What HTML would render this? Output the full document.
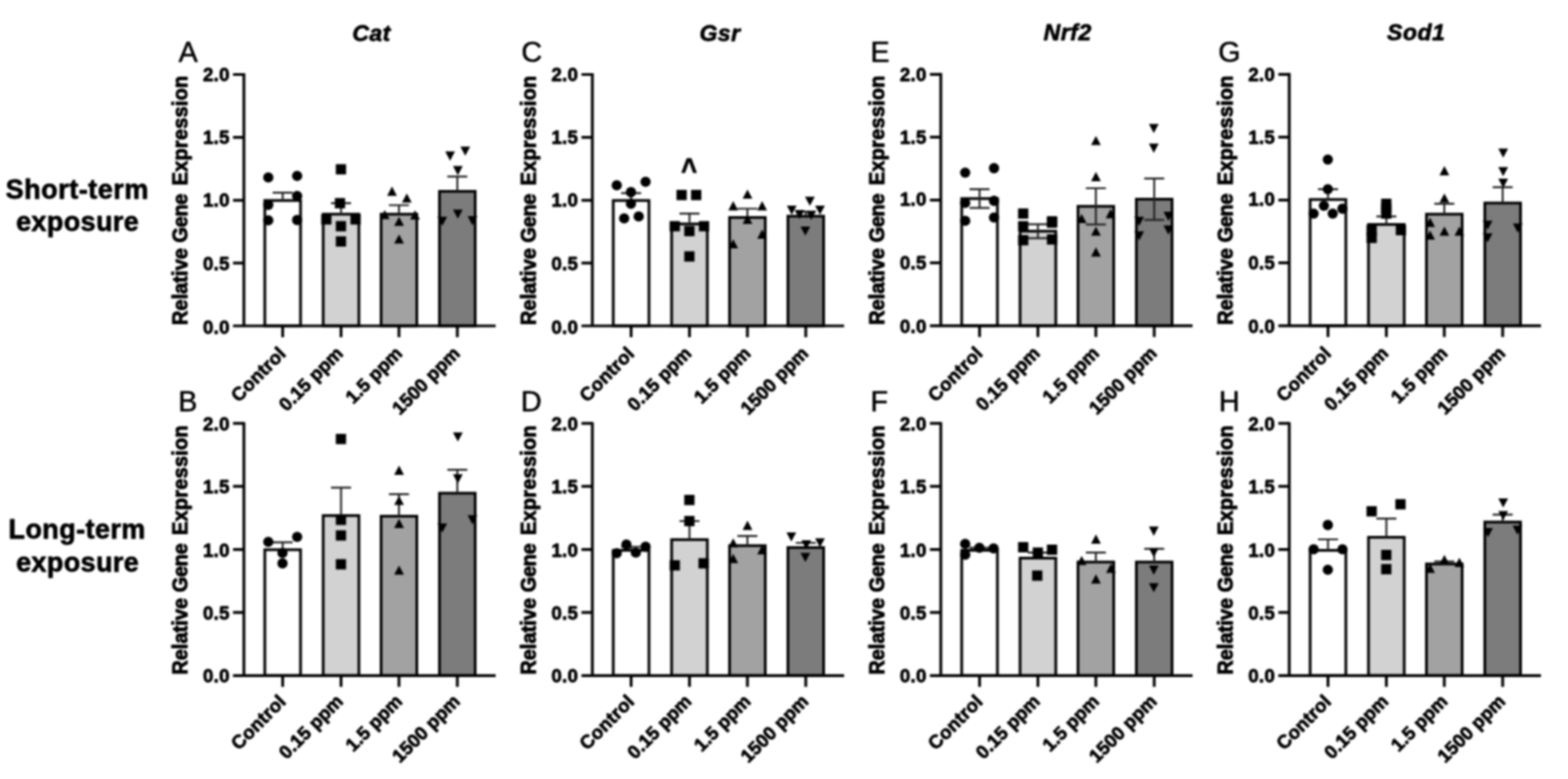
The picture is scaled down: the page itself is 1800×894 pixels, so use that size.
<!DOCTYPE html>
<html lang="en">
<head>
<meta charset="utf-8">
<title>Relative Gene Expression - Cat, Gsr, Nrf2, Sod1</title>
<style>
html,body{margin:0;padding:0;background:#fff;}
body{width:1800px;height:894px;overflow:hidden;}
svg{display:block;filter:blur(1.2px);}
text{font-family:"Liberation Sans", sans-serif;stroke:#000;stroke-width:0.8px;stroke-linejoin:round;}
.lt{stroke-width:0.6px;}
.tk text{stroke-width:0.8px;}
.yl text{stroke-width:1.0px;}
</style>
</head>
<body>
<svg width="1800" height="894" viewBox="0 0 1800 894" fill="#000">
<rect x="0" y="0" width="1800" height="894" fill="#fff"/>
<g font-weight="700" font-size="31" text-anchor="middle" letter-spacing="0.45">
<text x="88.7" y="227.5" letter-spacing="0.6">Short-term</text><text x="89.1" y="265">exposure</text>
<text x="88.5" y="617.5">Long-term</text><text x="89.1" y="656">exposure</text>
</g>
<g><!-- panel A -->
<text x="205.1" y="71.2" class="lt" font-size="33">A</text>
<text x="426.6" y="46.8" font-size="26.4" font-weight="700" font-style="italic" text-anchor="middle" letter-spacing="0.6">Cat</text>
<g class="yl" font-size="23" font-weight="700">
<text transform="translate(214.8 373.0) rotate(-90)" letter-spacing="0.0">Relative</text>
<text transform="translate(214.8 278.4) rotate(-90)" letter-spacing="-0.45">Gene</text>
<text transform="translate(214.8 212.7) rotate(-90)" letter-spacing="0.2">Expression</text>
</g>
<rect x="304.0" y="230.1" width="41.0" height="143.9" fill="#ffffff" stroke="#000" stroke-width="3.1"/>
<path d="M324.5 221.1V230.1M313.0 221.1H336.0" stroke="#222" stroke-width="2.2" fill="none"/>
<rect x="371.0" y="245.8" width="41.0" height="128.2" fill="#d2d2d2" stroke="#000" stroke-width="3.1"/>
<path d="M391.5 233.2V245.8M380.0 233.2H403.0" stroke="#222" stroke-width="2.2" fill="none"/>
<rect x="437.5" y="245.8" width="41.0" height="128.2" fill="#a2a2a2" stroke="#000" stroke-width="3.1"/>
<path d="M458.0 235.5V245.8M446.5 235.5H469.5" stroke="#222" stroke-width="2.2" fill="none"/>
<rect x="504.5" y="219.6" width="41.0" height="154.4" fill="#7c7c7c" stroke="#000" stroke-width="3.1"/>
<path d="M525.0 202.6V219.6M513.5 202.6H536.5" stroke="#222" stroke-width="2.2" fill="none"/>
<g stroke="#000" stroke-width="3.2" fill="none">
<path d="M280.0 84.0V374.0"/>
<path d="M267.5 374.0H569.0"/>
<path d="M267.5 85.5H280.0M267.5 157.6H280.0M267.5 229.8H280.0M267.5 301.9H280.0M324.5 374.0V387.0M391.5 374.0V387.0M458.0 374.0V387.0M525.0 374.0V387.0"/>
</g>
<g class="tk" font-size="21.5" font-weight="700" text-anchor="end" letter-spacing="0.3">
<text x="263.8" y="92.9">2.0</text>
<text x="263.8" y="165.0">1.5</text>
<text x="263.8" y="237.2">1.0</text>
<text x="263.8" y="310.2">0.5</text>
<text x="263.8" y="383.0">0.0</text>
</g>
<g font-size="21.5" font-weight="700" text-anchor="end" letter-spacing="0.3">
<text transform="translate(329.5 407.0) rotate(-45)" letter-spacing="0.3">Control</text>
<text transform="translate(395.0 407.0) rotate(-45)" letter-spacing="0.0">0.15 ppm</text>
<text transform="translate(463.0 407.0) rotate(-45)" letter-spacing="0.0">1.5 ppm</text>
<text transform="translate(529.2 407.0) rotate(-45)" letter-spacing="0.0">1500 ppm</text>
</g>
<g>
<circle cx="308.0" cy="203.7" r="5.9"/>
<circle cx="341.1" cy="201.9" r="5.9"/>
<circle cx="341.1" cy="224.9" r="5.9"/>
<circle cx="308.0" cy="235.0" r="5.9"/>
<circle cx="308.0" cy="252.9" r="5.9"/>
<circle cx="341.1" cy="252.5" r="5.9"/>
<rect x="385.5" y="188.4" width="11.8" height="11.8"/>
<rect x="384.4" y="227.3" width="11.8" height="11.8"/>
<rect x="368.7" y="245.9" width="11.8" height="11.8"/>
<rect x="402.3" y="245.9" width="11.8" height="11.8"/>
<rect x="385.5" y="253.7" width="11.8" height="11.8"/>
<rect x="385.5" y="271.2" width="11.8" height="11.8"/>
<path d="M444.4 224.7L455.6 224.7L450.0 214.1Z"/>
<path d="M461.4 232.5L472.6 232.5L467.0 221.9Z"/>
<path d="M436.1 251.5L447.3 251.5L441.7 240.9Z"/>
<path d="M470.8 251.9L482.0 251.9L476.4 241.3Z"/>
<path d="M452.5 259.3L463.7 259.3L458.1 248.7Z"/>
<path d="M452.5 279.5L463.7 279.5L458.1 268.9Z"/>
<path d="M511.1 173.8L522.3 173.8L516.7 184.4Z"/>
<path d="M528.5 168.2L539.7 168.2L534.1 178.8Z"/>
<path d="M520.0 190.6L531.2 190.6L525.6 201.2Z"/>
<path d="M520.0 240.4L531.2 240.4L525.6 251.0Z"/>
<path d="M502.1 248.7L513.3 248.7L507.7 259.3Z"/>
<path d="M536.8 248.1L548.0 248.1L542.4 258.7Z"/>
</g>
</g>
<g><!-- panel C -->
<text x="598.6" y="71.2" class="lt" font-size="33">C</text>
<text x="826.6" y="46.8" font-size="26.4" font-weight="700" font-style="italic" text-anchor="middle" letter-spacing="0.6">Gsr</text>
<g class="yl" font-size="23" font-weight="700">
<text transform="translate(614.8 373.0) rotate(-90)" letter-spacing="0.0">Relative</text>
<text transform="translate(614.8 278.4) rotate(-90)" letter-spacing="-0.45">Gene</text>
<text transform="translate(614.8 212.7) rotate(-90)" letter-spacing="0.2">Expression</text>
</g>
<rect x="704.0" y="230.1" width="41.0" height="143.9" fill="#ffffff" stroke="#000" stroke-width="3.1"/>
<path d="M724.5 221.6V230.1M713.0 221.6H736.0" stroke="#222" stroke-width="2.2" fill="none"/>
<rect x="771.0" y="257.0" width="41.0" height="117.0" fill="#d2d2d2" stroke="#000" stroke-width="3.1"/>
<path d="M791.5 245.1V257.0M780.0 245.1H803.0" stroke="#222" stroke-width="2.2" fill="none"/>
<rect x="837.5" y="249.6" width="41.0" height="124.4" fill="#a2a2a2" stroke="#000" stroke-width="3.1"/>
<path d="M858.0 239.5V249.6M846.5 239.5H869.5" stroke="#222" stroke-width="2.2" fill="none"/>
<rect x="904.5" y="248.1" width="41.0" height="125.9" fill="#7c7c7c" stroke="#000" stroke-width="3.1"/>
<path d="M925.0 242.8V248.1M913.5 242.8H936.5" stroke="#222" stroke-width="2.2" fill="none"/>
<g stroke="#000" stroke-width="3.2" fill="none">
<path d="M680.0 84.0V374.0"/>
<path d="M667.5 374.0H969.0"/>
<path d="M667.5 85.5H680.0M667.5 157.6H680.0M667.5 229.8H680.0M667.5 301.9H680.0M724.5 374.0V387.0M791.5 374.0V387.0M858.0 374.0V387.0M925.0 374.0V387.0"/>
</g>
<g class="tk" font-size="21.5" font-weight="700" text-anchor="end" letter-spacing="0.3">
<text x="663.8" y="92.9">2.0</text>
<text x="663.8" y="165.0">1.5</text>
<text x="663.8" y="237.2">1.0</text>
<text x="663.8" y="310.2">0.5</text>
<text x="663.8" y="383.0">0.0</text>
</g>
<g font-size="21.5" font-weight="700" text-anchor="end" letter-spacing="0.3">
<text transform="translate(729.5 407.0) rotate(-45)" letter-spacing="0.3">Control</text>
<text transform="translate(795.0 407.0) rotate(-45)" letter-spacing="0.0">0.15 ppm</text>
<text transform="translate(863.0 407.0) rotate(-45)" letter-spacing="0.0">1.5 ppm</text>
<text transform="translate(929.2 407.0) rotate(-45)" letter-spacing="0.0">1500 ppm</text>
</g>
<g>
<circle cx="708.0" cy="212.6" r="5.9"/>
<circle cx="741.1" cy="208.6" r="5.9"/>
<circle cx="724.3" cy="220.5" r="5.9"/>
<circle cx="724.3" cy="233.9" r="5.9"/>
<circle cx="716.5" cy="250.7" r="5.9"/>
<circle cx="733.2" cy="248.4" r="5.9"/>
<rect x="776.6" y="217.9" width="11.8" height="11.8"/>
<rect x="793.3" y="217.9" width="11.8" height="11.8"/>
<rect x="768.7" y="253.7" width="11.8" height="11.8"/>
<rect x="785.5" y="259.3" width="11.8" height="11.8"/>
<rect x="802.3" y="253.7" width="11.8" height="11.8"/>
<rect x="785.5" y="288.4" width="11.8" height="11.8"/>
<path d="M852.5 228.0L863.7 228.0L858.1 217.4Z"/>
<path d="M836.1 241.4L847.3 241.4L841.7 230.8Z"/>
<path d="M869.3 241.4L880.5 241.4L874.9 230.8Z"/>
<path d="M852.5 257.1L863.7 257.1L858.1 246.5Z"/>
<path d="M869.3 273.9L880.5 273.9L874.9 263.3Z"/>
<path d="M836.1 285.1L847.3 285.1L841.7 274.5Z"/>
<path d="M924.1 225.7L935.3 225.7L929.7 236.3Z"/>
<path d="M903.3 236.0L914.5 236.0L908.9 246.6Z"/>
<path d="M935.7 236.0L946.9 236.0L941.3 246.6Z"/>
<path d="M912.2 240.9L923.4 240.9L917.8 251.5Z"/>
<path d="M925.6 242.0L936.8 242.0L931.2 252.6Z"/>
<path d="M918.9 259.9L930.1 259.9L924.5 270.5Z"/>
</g>
<text transform="translate(791.0 207.4) scale(1 1.22)" font-size="31" font-weight="700" text-anchor="middle">^</text>
</g>
<g><!-- panel E -->
<text x="999.2" y="71.0" class="lt" font-size="33">E</text>
<text x="1225.6" y="45.8" font-size="26.4" font-weight="700" font-style="italic" text-anchor="middle" letter-spacing="0.6">Nrf2</text>
<g class="yl" font-size="23" font-weight="700">
<text transform="translate(1014.8 372.8) rotate(-90)" letter-spacing="0.0">Relative</text>
<text transform="translate(1014.8 278.2) rotate(-90)" letter-spacing="-0.45">Gene</text>
<text transform="translate(1014.8 212.5) rotate(-90)" letter-spacing="0.2">Expression</text>
</g>
<rect x="1104.0" y="227.9" width="41.0" height="145.9" fill="#ffffff" stroke="#000" stroke-width="3.1"/>
<path d="M1124.5 217.1V238.7M1113.0 217.1H1136.0M1113.0 238.7H1136.0" stroke="#222" stroke-width="2.2" fill="none"/>
<rect x="1171.0" y="265.3" width="41.0" height="108.5" fill="#d2d2d2" stroke="#000" stroke-width="3.1"/>
<path d="M1191.5 257.3V273.3M1180.0 257.3H1203.0M1180.0 273.3H1203.0" stroke="#222" stroke-width="2.2" fill="none"/>
<rect x="1237.5" y="236.8" width="41.0" height="137.0" fill="#a2a2a2" stroke="#000" stroke-width="3.1"/>
<path d="M1258.0 216.0V257.6M1246.5 216.0H1269.5M1246.5 257.6H1269.5" stroke="#222" stroke-width="2.2" fill="none"/>
<rect x="1304.5" y="228.6" width="41.0" height="145.2" fill="#7c7c7c" stroke="#000" stroke-width="3.1"/>
<path d="M1325.0 204.8V252.4M1313.5 204.8H1336.5M1313.5 252.4H1336.5" stroke="#222" stroke-width="2.2" fill="none"/>
<g stroke="#000" stroke-width="3.2" fill="none">
<path d="M1080.0 83.8V373.8"/>
<path d="M1067.5 373.8H1369.0"/>
<path d="M1067.5 85.3H1080.0M1067.5 157.4H1080.0M1067.5 229.6H1080.0M1067.5 301.7H1080.0M1124.5 373.8V386.8M1191.5 373.8V386.8M1258.0 373.8V386.8M1325.0 373.8V386.8"/>
</g>
<g class="tk" font-size="21.5" font-weight="700" text-anchor="end" letter-spacing="0.3">
<text x="1063.8" y="92.7">2.0</text>
<text x="1063.8" y="164.5">1.5</text>
<text x="1063.8" y="236.3">1.0</text>
<text x="1063.8" y="309.0">0.5</text>
<text x="1063.8" y="381.5">0.0</text>
</g>
<g font-size="21.5" font-weight="700" text-anchor="end" letter-spacing="0.3">
<text transform="translate(1129.5 406.8) rotate(-45)" letter-spacing="0.3">Control</text>
<text transform="translate(1195.0 406.8) rotate(-45)" letter-spacing="0.0">0.15 ppm</text>
<text transform="translate(1263.0 406.8) rotate(-45)" letter-spacing="0.0">1.5 ppm</text>
<text transform="translate(1329.2 406.8) rotate(-45)" letter-spacing="0.0">1500 ppm</text>
</g>
<g>
<circle cx="1108.0" cy="198.1" r="5.9"/>
<circle cx="1141.1" cy="193.0" r="5.9"/>
<circle cx="1108.0" cy="232.8" r="5.9"/>
<circle cx="1141.1" cy="230.5" r="5.9"/>
<circle cx="1108.0" cy="253.4" r="5.9"/>
<circle cx="1141.1" cy="249.6" r="5.9"/>
<rect x="1168.7" y="239.2" width="11.8" height="11.8"/>
<rect x="1201.8" y="248.1" width="11.8" height="11.8"/>
<rect x="1168.7" y="253.7" width="11.8" height="11.8"/>
<rect x="1201.8" y="249.7" width="11.8" height="11.8"/>
<rect x="1168.7" y="269.8" width="11.8" height="11.8"/>
<rect x="1201.8" y="268.9" width="11.8" height="11.8"/>
<path d="M1252.5 166.5L1263.7 166.5L1258.1 155.9Z"/>
<path d="M1252.5 207.9L1263.7 207.9L1258.1 197.3Z"/>
<path d="M1236.1 256.0L1247.3 256.0L1241.7 245.4Z"/>
<path d="M1269.3 250.4L1280.5 250.4L1274.9 239.8Z"/>
<path d="M1252.5 270.5L1263.7 270.5L1258.1 259.9Z"/>
<path d="M1252.5 294.4L1263.7 294.4L1258.1 283.8Z"/>
<path d="M1318.9 142.2L1330.1 142.2L1324.5 152.8Z"/>
<path d="M1318.9 164.8L1330.1 164.8L1324.5 175.4Z"/>
<path d="M1302.1 248.7L1313.3 248.7L1307.7 259.3Z"/>
<path d="M1335.7 243.1L1346.9 243.1L1341.3 253.7Z"/>
<path d="M1302.1 265.5L1313.3 265.5L1307.7 276.1Z"/>
<path d="M1335.7 258.8L1346.9 258.8L1341.3 269.4Z"/>
</g>
</g>
<g><!-- panel G -->
<text x="1398.5" y="71.0" class="lt" font-size="33">G</text>
<text x="1625.8" y="45.8" font-size="26.4" font-weight="700" font-style="italic" text-anchor="middle" letter-spacing="0.6">Sod1</text>
<g class="yl" font-size="23" font-weight="700">
<text transform="translate(1414.8 372.8) rotate(-90)" letter-spacing="0.0">Relative</text>
<text transform="translate(1414.8 278.2) rotate(-90)" letter-spacing="-0.45">Gene</text>
<text transform="translate(1414.8 212.5) rotate(-90)" letter-spacing="0.2">Expression</text>
</g>
<rect x="1504.0" y="229.0" width="41.0" height="144.8" fill="#ffffff" stroke="#000" stroke-width="3.1"/>
<path d="M1524.5 217.1V229.0M1513.0 217.1H1536.0" stroke="#222" stroke-width="2.2" fill="none"/>
<rect x="1571.0" y="257.6" width="41.0" height="116.2" fill="#d2d2d2" stroke="#000" stroke-width="3.1"/>
<path d="M1591.5 248.4V257.6M1580.0 248.4H1603.0" stroke="#222" stroke-width="2.2" fill="none"/>
<rect x="1637.5" y="245.8" width="41.0" height="128.0" fill="#a2a2a2" stroke="#000" stroke-width="3.1"/>
<path d="M1658.0 233.9V245.8M1646.5 233.9H1669.5" stroke="#222" stroke-width="2.2" fill="none"/>
<rect x="1704.5" y="233.0" width="41.0" height="140.8" fill="#7c7c7c" stroke="#000" stroke-width="3.1"/>
<path d="M1725.0 214.9V233.0M1713.5 214.9H1736.5" stroke="#222" stroke-width="2.2" fill="none"/>
<g stroke="#000" stroke-width="3.2" fill="none">
<path d="M1480.0 83.8V373.8"/>
<path d="M1467.5 373.8H1769.0"/>
<path d="M1467.5 85.3H1480.0M1467.5 157.4H1480.0M1467.5 229.6H1480.0M1467.5 301.7H1480.0M1524.5 373.8V386.8M1591.5 373.8V386.8M1658.0 373.8V386.8M1725.0 373.8V386.8"/>
</g>
<g class="tk" font-size="21.5" font-weight="700" text-anchor="end" letter-spacing="0.3">
<text x="1463.8" y="92.7">2.0</text>
<text x="1463.8" y="164.5">1.5</text>
<text x="1463.8" y="236.3">1.0</text>
<text x="1463.8" y="309.0">0.5</text>
<text x="1463.8" y="381.5">0.0</text>
</g>
<g font-size="21.5" font-weight="700" text-anchor="end" letter-spacing="0.3">
<text transform="translate(1529.5 406.8) rotate(-45)" letter-spacing="0.3">Control</text>
<text transform="translate(1595.0 406.8) rotate(-45)" letter-spacing="0.0">0.15 ppm</text>
<text transform="translate(1663.0 406.8) rotate(-45)" letter-spacing="0.0">1.5 ppm</text>
<text transform="translate(1729.2 406.8) rotate(-45)" letter-spacing="0.0">1500 ppm</text>
</g>
<g>
<circle cx="1524.3" cy="183.1" r="5.9"/>
<circle cx="1524.3" cy="217.1" r="5.9"/>
<circle cx="1519.8" cy="236.1" r="5.9"/>
<circle cx="1541.1" cy="239.5" r="5.9"/>
<circle cx="1508.0" cy="245.1" r="5.9"/>
<circle cx="1529.9" cy="245.1" r="5.9"/>
<rect x="1585.5" y="228.0" width="11.8" height="11.8"/>
<rect x="1585.5" y="233.6" width="11.8" height="11.8"/>
<rect x="1585.5" y="239.2" width="11.8" height="11.8"/>
<rect x="1568.7" y="258.2" width="11.8" height="11.8"/>
<rect x="1602.3" y="258.2" width="11.8" height="11.8"/>
<rect x="1568.7" y="267.1" width="11.8" height="11.8"/>
<path d="M1652.5 201.2L1663.7 201.2L1658.1 190.6Z"/>
<path d="M1652.5 232.5L1663.7 232.5L1658.1 221.9Z"/>
<path d="M1636.1 260.4L1647.3 260.4L1641.7 249.8Z"/>
<path d="M1636.1 275.0L1647.3 275.0L1641.7 264.4Z"/>
<path d="M1652.5 270.5L1663.7 270.5L1658.1 259.9Z"/>
<path d="M1669.7 270.5L1680.9 270.5L1675.3 259.9Z"/>
<path d="M1720.0 170.4L1731.2 170.4L1725.6 181.0Z"/>
<path d="M1720.0 191.7L1731.2 191.7L1725.6 202.3Z"/>
<path d="M1720.0 205.1L1731.2 205.1L1725.6 215.7Z"/>
<path d="M1702.1 253.2L1713.3 253.2L1707.7 263.8Z"/>
<path d="M1736.8 256.6L1748.0 256.6L1742.4 267.2Z"/>
<path d="M1702.1 267.7L1713.3 267.7L1707.7 278.3Z"/>
</g>
</g>
<g><!-- panel B -->
<text x="204.4" y="471.6" class="lt" font-size="33">B</text>
<g class="yl" font-size="23" font-weight="700">
<text transform="translate(214.8 774.3) rotate(-90)" letter-spacing="0.0">Relative</text>
<text transform="translate(214.8 679.7) rotate(-90)" letter-spacing="-0.45">Gene</text>
<text transform="translate(214.8 614.0) rotate(-90)" letter-spacing="0.2">Expression</text>
</g>
<rect x="304.0" y="630.9" width="41.0" height="144.4" fill="#ffffff" stroke="#000" stroke-width="3.1"/>
<path d="M324.5 622.4V630.9M313.0 622.4H336.0" stroke="#222" stroke-width="2.2" fill="none"/>
<rect x="371.0" y="591.7" width="41.0" height="183.6" fill="#d2d2d2" stroke="#000" stroke-width="3.1"/>
<path d="M391.5 559.7V591.7M380.0 559.7H403.0" stroke="#222" stroke-width="2.2" fill="none"/>
<rect x="437.5" y="592.4" width="41.0" height="182.9" fill="#a2a2a2" stroke="#000" stroke-width="3.1"/>
<path d="M458.0 567.1V592.4M446.5 567.1H469.5" stroke="#222" stroke-width="2.2" fill="none"/>
<rect x="504.5" y="566.0" width="41.0" height="209.3" fill="#7c7c7c" stroke="#000" stroke-width="3.1"/>
<path d="M525.0 539.1V566.0M513.5 539.1H536.5" stroke="#222" stroke-width="2.2" fill="none"/>
<g stroke="#000" stroke-width="3.2" fill="none">
<path d="M280.0 484.4V775.3"/>
<path d="M267.5 775.3H569.0"/>
<path d="M267.5 485.9H280.0M267.5 558.2H280.0M267.5 630.6H280.0M267.5 702.9H280.0M324.5 775.3V788.3M391.5 775.3V788.3M458.0 775.3V788.3M525.0 775.3V788.3"/>
</g>
<g class="tk" font-size="21.5" font-weight="700" text-anchor="end" letter-spacing="0.3">
<text x="263.8" y="493.9">2.0</text>
<text x="263.8" y="566.2">1.5</text>
<text x="263.8" y="638.6">1.0</text>
<text x="263.8" y="710.9">0.5</text>
<text x="263.8" y="783.3">0.0</text>
</g>
<g font-size="21.5" font-weight="700" text-anchor="end" letter-spacing="0.3">
<text transform="translate(329.5 806.3) rotate(-45)" letter-spacing="0.3">Control</text>
<text transform="translate(395.0 806.3) rotate(-45)" letter-spacing="0.0">0.15 ppm</text>
<text transform="translate(463.0 806.3) rotate(-45)" letter-spacing="0.0">1.5 ppm</text>
<text transform="translate(529.2 806.3) rotate(-45)" letter-spacing="0.0">1500 ppm</text>
</g>
<g>
<circle cx="308.0" cy="621.9" r="5.9"/>
<circle cx="341.1" cy="616.1" r="5.9"/>
<circle cx="324.3" cy="634.7" r="5.9"/>
<circle cx="324.3" cy="646.5" r="5.9"/>
<rect x="385.5" y="497.9" width="11.8" height="11.8"/>
<rect x="385.5" y="590.7" width="11.8" height="11.8"/>
<rect x="385.5" y="608.6" width="11.8" height="11.8"/>
<rect x="385.5" y="641.7" width="11.8" height="11.8"/>
<path d="M452.5 544.9L463.7 544.9L458.1 534.3Z"/>
<path d="M452.5 579.5L463.7 579.5L458.1 568.9Z"/>
<path d="M452.5 605.9L463.7 605.9L458.1 595.3Z"/>
<path d="M452.5 659.6L463.7 659.6L458.1 649.0Z"/>
<path d="M520.0 496.2L531.2 496.2L525.6 506.8Z"/>
<path d="M520.0 544.3L531.2 544.3L525.6 554.9Z"/>
<path d="M502.1 600.7L513.3 600.7L507.7 611.3Z"/>
<path d="M536.8 591.3L548.0 591.3L542.4 601.9Z"/>
</g>
</g>
<g><!-- panel D -->
<text x="598.0" y="471.6" class="lt" font-size="33">D</text>
<g class="yl" font-size="23" font-weight="700">
<text transform="translate(614.8 774.3) rotate(-90)" letter-spacing="0.0">Relative</text>
<text transform="translate(614.8 679.7) rotate(-90)" letter-spacing="-0.45">Gene</text>
<text transform="translate(614.8 614.0) rotate(-90)" letter-spacing="0.2">Expression</text>
</g>
<rect x="704.0" y="631.6" width="41.0" height="143.7" fill="#ffffff" stroke="#000" stroke-width="3.1"/>
<path d="M724.5 627.5V631.6M713.0 627.5H736.0" stroke="#222" stroke-width="2.2" fill="none"/>
<rect x="771.0" y="619.3" width="41.0" height="156.0" fill="#d2d2d2" stroke="#000" stroke-width="3.1"/>
<path d="M791.5 598.0V619.3M780.0 598.0H803.0" stroke="#222" stroke-width="2.2" fill="none"/>
<rect x="837.5" y="626.2" width="41.0" height="149.1" fill="#a2a2a2" stroke="#000" stroke-width="3.1"/>
<path d="M858.0 615.2V626.2M846.5 615.2H869.5" stroke="#222" stroke-width="2.2" fill="none"/>
<rect x="904.5" y="628.4" width="41.0" height="146.9" fill="#7c7c7c" stroke="#000" stroke-width="3.1"/>
<path d="M925.0 623.0V628.4M913.5 623.0H936.5" stroke="#222" stroke-width="2.2" fill="none"/>
<g stroke="#000" stroke-width="3.2" fill="none">
<path d="M680.0 484.4V775.3"/>
<path d="M667.5 775.3H969.0"/>
<path d="M667.5 485.9H680.0M667.5 558.2H680.0M667.5 630.6H680.0M667.5 702.9H680.0M724.5 775.3V788.3M791.5 775.3V788.3M858.0 775.3V788.3M925.0 775.3V788.3"/>
</g>
<g class="tk" font-size="21.5" font-weight="700" text-anchor="end" letter-spacing="0.3">
<text x="663.8" y="493.9">2.0</text>
<text x="663.8" y="566.2">1.5</text>
<text x="663.8" y="638.6">1.0</text>
<text x="663.8" y="710.9">0.5</text>
<text x="663.8" y="783.3">0.0</text>
</g>
<g font-size="21.5" font-weight="700" text-anchor="end" letter-spacing="0.3">
<text transform="translate(729.5 806.3) rotate(-45)" letter-spacing="0.3">Control</text>
<text transform="translate(795.0 806.3) rotate(-45)" letter-spacing="0.0">0.15 ppm</text>
<text transform="translate(863.0 806.3) rotate(-45)" letter-spacing="0.0">1.5 ppm</text>
<text transform="translate(929.2 806.3) rotate(-45)" letter-spacing="0.0">1500 ppm</text>
</g>
<g>
<circle cx="708.0" cy="634.9" r="5.9"/>
<circle cx="719.1" cy="624.8" r="5.9"/>
<circle cx="729.9" cy="634.2" r="5.9"/>
<circle cx="741.1" cy="627.5" r="5.9"/>
<rect x="785.5" y="567.9" width="11.8" height="11.8"/>
<rect x="785.5" y="592.1" width="11.8" height="11.8"/>
<rect x="768.7" y="642.9" width="11.8" height="11.8"/>
<rect x="801.8" y="640.6" width="11.8" height="11.8"/>
<path d="M852.5 608.2L863.7 608.2L858.1 597.6Z"/>
<path d="M836.1 628.3L847.3 628.3L841.7 617.7Z"/>
<path d="M869.3 636.2L880.5 636.2L874.9 625.6Z"/>
<path d="M836.1 646.2L847.3 646.2L841.7 635.6Z"/>
<path d="M902.8 611.0L914.0 611.0L908.4 621.6Z"/>
<path d="M920.0 620.0L931.2 620.0L925.6 630.6Z"/>
<path d="M935.7 617.7L946.9 617.7L941.3 628.3Z"/>
<path d="M918.9 634.5L930.1 634.5L924.5 645.1Z"/>
</g>
</g>
<g><!-- panel F -->
<text x="999.2" y="471.6" class="lt" font-size="33">F</text>
<g class="yl" font-size="23" font-weight="700">
<text transform="translate(1014.8 774.3) rotate(-90)" letter-spacing="0.0">Relative</text>
<text transform="translate(1014.8 679.7) rotate(-90)" letter-spacing="-0.45">Gene</text>
<text transform="translate(1014.8 614.0) rotate(-90)" letter-spacing="0.2">Expression</text>
</g>
<rect x="1104.0" y="631.6" width="41.0" height="143.7" fill="#ffffff" stroke="#000" stroke-width="3.1"/>
<path d="M1124.5 628.6V631.6M1113.0 628.6H1136.0" stroke="#222" stroke-width="2.2" fill="none"/>
<rect x="1171.0" y="640.5" width="41.0" height="134.8" fill="#d2d2d2" stroke="#000" stroke-width="3.1"/>
<path d="M1191.5 634.2V640.5M1180.0 634.2H1203.0" stroke="#222" stroke-width="2.2" fill="none"/>
<rect x="1237.5" y="645.0" width="41.0" height="130.3" fill="#a2a2a2" stroke="#000" stroke-width="3.1"/>
<path d="M1258.0 634.2V645.0M1246.5 634.2H1269.5" stroke="#222" stroke-width="2.2" fill="none"/>
<rect x="1304.5" y="645.0" width="41.0" height="130.3" fill="#7c7c7c" stroke="#000" stroke-width="3.1"/>
<path d="M1325.0 629.8V645.0M1313.5 629.8H1336.5" stroke="#222" stroke-width="2.2" fill="none"/>
<g stroke="#000" stroke-width="3.2" fill="none">
<path d="M1080.0 484.4V775.3"/>
<path d="M1067.5 775.3H1369.0"/>
<path d="M1067.5 485.9H1080.0M1067.5 558.2H1080.0M1067.5 630.6H1080.0M1067.5 702.9H1080.0M1124.5 775.3V788.3M1191.5 775.3V788.3M1258.0 775.3V788.3M1325.0 775.3V788.3"/>
</g>
<g class="tk" font-size="21.5" font-weight="700" text-anchor="end" letter-spacing="0.3">
<text x="1063.8" y="493.9">2.0</text>
<text x="1063.8" y="566.2">1.5</text>
<text x="1063.8" y="638.6">1.0</text>
<text x="1063.8" y="710.9">0.5</text>
<text x="1063.8" y="783.3">0.0</text>
</g>
<g font-size="21.5" font-weight="700" text-anchor="end" letter-spacing="0.3">
<text transform="translate(1129.5 806.3) rotate(-45)" letter-spacing="0.3">Control</text>
<text transform="translate(1195.0 806.3) rotate(-45)" letter-spacing="0.0">0.15 ppm</text>
<text transform="translate(1263.0 806.3) rotate(-45)" letter-spacing="0.0">1.5 ppm</text>
<text transform="translate(1329.2 806.3) rotate(-45)" letter-spacing="0.0">1500 ppm</text>
</g>
<g>
<circle cx="1108.0" cy="624.2" r="5.9"/>
<circle cx="1108.0" cy="636.5" r="5.9"/>
<circle cx="1124.3" cy="628.6" r="5.9"/>
<circle cx="1140.6" cy="629.3" r="5.9"/>
<rect x="1168.7" y="622.1" width="11.8" height="11.8"/>
<rect x="1185.5" y="628.3" width="11.8" height="11.8"/>
<rect x="1201.8" y="625.0" width="11.8" height="11.8"/>
<rect x="1184.8" y="654.7" width="11.8" height="11.8"/>
<path d="M1252.5 623.9L1263.7 623.9L1258.1 613.3Z"/>
<path d="M1236.1 648.5L1247.3 648.5L1241.7 637.9Z"/>
<path d="M1269.7 657.4L1280.9 657.4L1275.3 646.8Z"/>
<path d="M1252.5 669.7L1263.7 669.7L1258.1 659.1Z"/>
<path d="M1318.9 604.3L1330.1 604.3L1324.5 614.9Z"/>
<path d="M1318.9 628.9L1330.1 628.9L1324.5 639.5Z"/>
<path d="M1318.9 649.1L1330.1 649.1L1324.5 659.7Z"/>
<path d="M1318.9 669.2L1330.1 669.2L1324.5 679.8Z"/>
</g>
</g>
<g><!-- panel H -->
<text x="1399.2" y="471.6" class="lt" font-size="33">H</text>
<g class="yl" font-size="23" font-weight="700">
<text transform="translate(1414.8 774.3) rotate(-90)" letter-spacing="0.0">Relative</text>
<text transform="translate(1414.8 679.7) rotate(-90)" letter-spacing="-0.45">Gene</text>
<text transform="translate(1414.8 614.0) rotate(-90)" letter-spacing="0.2">Expression</text>
</g>
<rect x="1504.0" y="631.6" width="41.0" height="143.7" fill="#ffffff" stroke="#000" stroke-width="3.1"/>
<path d="M1524.5 619.0V631.6M1513.0 619.0H1536.0" stroke="#222" stroke-width="2.2" fill="none"/>
<rect x="1571.0" y="616.6" width="41.0" height="158.7" fill="#d2d2d2" stroke="#000" stroke-width="3.1"/>
<path d="M1591.5 595.1V616.6M1580.0 595.1H1603.0" stroke="#222" stroke-width="2.2" fill="none"/>
<rect x="1637.5" y="647.2" width="41.0" height="128.1" fill="#a2a2a2" stroke="#000" stroke-width="3.1"/>
<path d="M1658.0 644.3V647.2M1646.5 644.3H1669.5" stroke="#222" stroke-width="2.2" fill="none"/>
<rect x="1704.5" y="599.1" width="41.0" height="176.2" fill="#7c7c7c" stroke="#000" stroke-width="3.1"/>
<path d="M1725.0 590.6V599.1M1713.5 590.6H1736.5" stroke="#222" stroke-width="2.2" fill="none"/>
<g stroke="#000" stroke-width="3.2" fill="none">
<path d="M1480.0 484.4V775.3"/>
<path d="M1467.5 775.3H1769.0"/>
<path d="M1467.5 485.9H1480.0M1467.5 558.2H1480.0M1467.5 630.6H1480.0M1467.5 702.9H1480.0M1524.5 775.3V788.3M1591.5 775.3V788.3M1658.0 775.3V788.3M1725.0 775.3V788.3"/>
</g>
<g class="tk" font-size="21.5" font-weight="700" text-anchor="end" letter-spacing="0.3">
<text x="1463.8" y="493.9">2.0</text>
<text x="1463.8" y="566.2">1.5</text>
<text x="1463.8" y="638.6">1.0</text>
<text x="1463.8" y="710.9">0.5</text>
<text x="1463.8" y="783.3">0.0</text>
</g>
<g font-size="21.5" font-weight="700" text-anchor="end" letter-spacing="0.3">
<text transform="translate(1529.5 806.3) rotate(-45)" letter-spacing="0.3">Control</text>
<text transform="translate(1595.0 806.3) rotate(-45)" letter-spacing="0.0">0.15 ppm</text>
<text transform="translate(1663.0 806.3) rotate(-45)" letter-spacing="0.0">1.5 ppm</text>
<text transform="translate(1729.2 806.3) rotate(-45)" letter-spacing="0.0">1500 ppm</text>
</g>
<g>
<circle cx="1524.3" cy="602.5" r="5.9"/>
<circle cx="1508.0" cy="630.4" r="5.9"/>
<circle cx="1541.1" cy="630.4" r="5.9"/>
<circle cx="1524.3" cy="653.9" r="5.9"/>
<rect x="1568.7" y="580.9" width="11.8" height="11.8"/>
<rect x="1601.8" y="572.8" width="11.8" height="11.8"/>
<rect x="1585.5" y="631.0" width="11.8" height="11.8"/>
<rect x="1585.5" y="647.3" width="11.8" height="11.8"/>
<path d="M1652.5 647.4L1663.7 647.4L1658.1 636.8Z"/>
<path d="M1636.1 657.4L1647.3 657.4L1641.7 646.8Z"/>
<path d="M1669.7 650.7L1680.9 650.7L1675.3 640.1Z"/>
<path d="M1720.0 571.9L1731.2 571.9L1725.6 582.5Z"/>
<path d="M1720.0 586.4L1731.2 586.4L1725.6 597.0Z"/>
<path d="M1702.6 605.9L1713.8 605.9L1708.2 616.5Z"/>
<path d="M1736.4 603.2L1747.6 603.2L1742.0 613.8Z"/>
</g>
</g>
</svg>
</body>
</html>
